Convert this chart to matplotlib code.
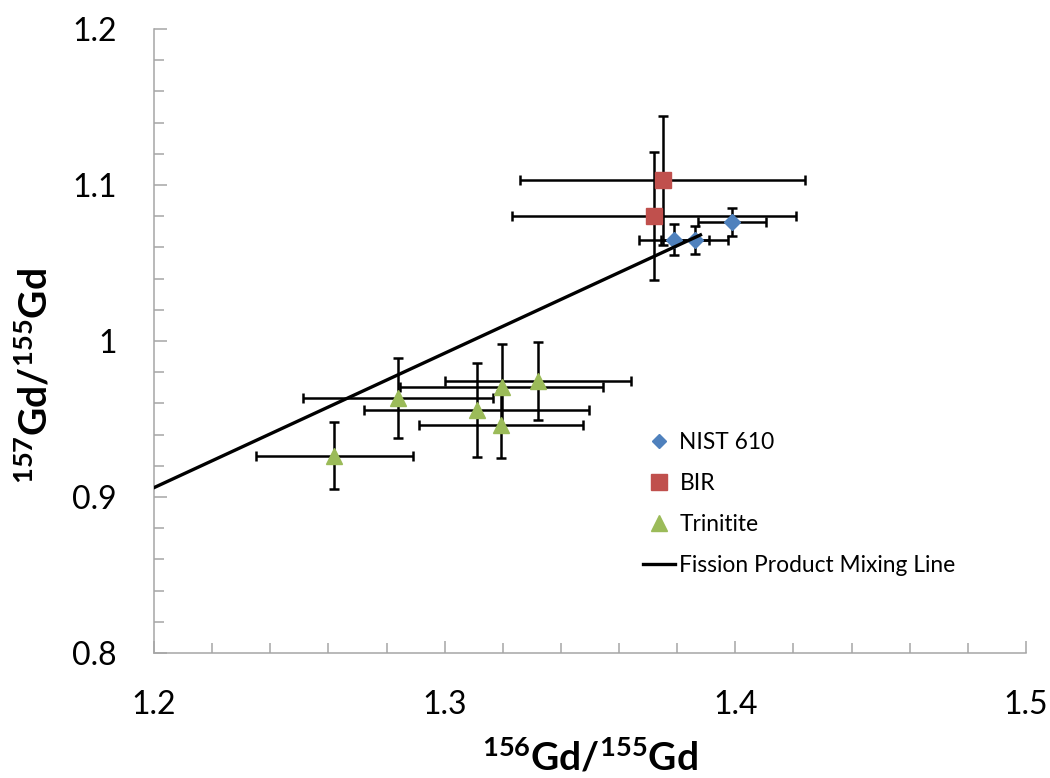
import matplotlib
matplotlib.use("Agg")
import matplotlib.pyplot as plt
from matplotlib.lines import Line2D
from matplotlib.ticker import MultipleLocator, FuncFormatter

# NIST 610
nist_x = [1.379, 1.386, 1.399]
nist_y = [1.065, 1.065, 1.076]
nist_xerr = [0.012, 0.0115, 0.0117]
nist_yerr = [0.0097, 0.009, 0.009]

# BIR
bir_x = [1.372, 1.375]
bir_y = [1.080, 1.103]
bir_xerr = [0.049, 0.049]
bir_yerr = [0.041, 0.0415]

# Trinitite
trin_x = [1.262, 1.284, 1.311, 1.3196, 1.3193, 1.332]
trin_y = [0.9265, 0.9635, 0.9556, 0.9705, 0.9464, 0.9746]
trin_xerr = [0.027, 0.0326, 0.0388, 0.0349, 0.0283, 0.032]
trin_yerr = [0.0214, 0.0257, 0.0301, 0.0276, 0.0216, 0.025]

# fission product mixing line
mix_x = [1.2, 1.388]
mix_y = [0.906, 1.068]

blue = '#4F81BD'
red = '#C0504D'
green = '#9BBB59'
axcol = '#A6A6A6'

plt.rcParams['font.family'] = ['Lato', 'DejaVu Sans']
plt.rcParams['mathtext.fontset'] = 'custom'
plt.rcParams['mathtext.rm'] = 'Lato'
plt.rcParams['mathtext.bf'] = 'Lato:bold'

fig = plt.figure(figsize=(10.5, 7.78), dpi=100)
ax = fig.add_axes([154/1050, 1-653/778, (1026-154)/1050, (653-29)/778])

ebkw = dict(fmt='none', ecolor='black', elinewidth=1.8, capsize=3.5, capthick=1.8, zorder=2)
ax.errorbar(nist_x, nist_y, xerr=nist_xerr, yerr=nist_yerr, **ebkw)
ax.errorbar(bir_x, bir_y, xerr=bir_xerr, yerr=bir_yerr, **ebkw)
ax.errorbar(trin_x, trin_y, xerr=trin_xerr, yerr=trin_yerr, **ebkw)

ax.plot(nist_x, nist_y, 'D', color=blue, ms=8.2, mec=blue, zorder=3)
ax.plot(bir_x, bir_y, 's', color=red, ms=12, mec=red, zorder=3)
ax.plot(trin_x, trin_y, '^', color=green, ms=12, mec=green, zorder=3)
ax.plot(mix_x, mix_y, '-', color='black', lw=2.4, zorder=4)

ax.set_xlim(1.2, 1.5)
ax.set_ylim(0.8, 1.2)
ax.xaxis.set_major_locator(MultipleLocator(0.1))
ax.xaxis.set_minor_locator(MultipleLocator(0.02))
ax.yaxis.set_major_locator(MultipleLocator(0.1))
ax.yaxis.set_minor_locator(MultipleLocator(0.02))
fmt = FuncFormatter(lambda v, p: ('%.1f' % v).rstrip('0').rstrip('.') if abs(v - round(v)) < 1e-9 else '%.1f' % v)
ax.xaxis.set_major_formatter(fmt)
ax.yaxis.set_major_formatter(fmt)

for s in ['top', 'right']:
    ax.spines[s].set_visible(False)
for s in ['left', 'bottom']:
    ax.spines[s].set_color(axcol)
    ax.spines[s].set_linewidth(1.1)

ax.tick_params(which='major', direction='in', length=9, width=1.1, color=axcol, labelsize=23, pad=27)
ax.tick_params(which='minor', direction='in', length=7, width=1.1, color=axcol)

fig.text(590/1050, 1-739/778, r'$\mathbf{^{156}Gd/^{155}Gd}$', ha='center', va='top', fontsize=28)
fig.text(35/1050, 1-376/778, r'$\mathbf{^{157}Gd/^{155}Gd}$', ha='center', va='center', fontsize=28, rotation=90)

handles = [
    Line2D([], [], ls='none', marker='D', color=blue, ms=7.5),
    Line2D([], [], ls='none', marker='s', color=red, ms=11),
    Line2D([], [], ls='none', marker='^', color=green, ms=11),
    Line2D([], [], color='black', lw=2.4),
]
labels = ['NIST 610', 'BIR', 'Trinitite', 'Fission Product Mixing Line']
fig.legend(handles, labels, loc='center left', bbox_to_anchor=(643/1050, 1-504/778),
           frameon=False, fontsize=16.4, borderpad=0, borderaxespad=0, handlelength=1.4,
           handletextpad=0.2, labelspacing=0.88)

fig.savefig('out.png', dpi=100)
